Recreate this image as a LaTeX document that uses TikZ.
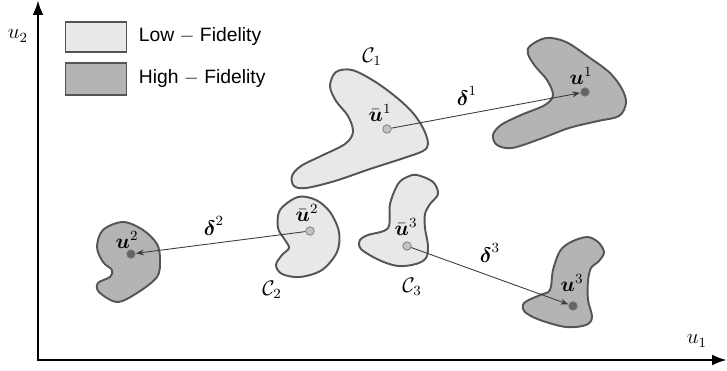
\documentclass[tikz,border=0pt]{standalone}
\usepackage{amsmath}
\usepackage{fontspec}
\setsansfont{Liberation Sans}
\usepackage{tikz}
\usetikzlibrary{arrows.meta, positioning}
\definecolor{lofill}{RGB}{232,232,232}
\definecolor{hifill}{RGB}{180,180,180}
\definecolor{edgegray}{RGB}{85,85,85}
\definecolor{lopt}{RGB}{195,195,195}
\definecolor{hipt}{RGB}{100,100,100}
\definecolor{arrgray}{RGB}{60,60,60}
\tikzset{
  lowfid/.style={draw=edgegray, fill=lofill, line width=1.1pt},
  highfid/.style={draw=edgegray, fill=hifill, line width=1.1pt},
  lowpt/.style={circle, draw=edgegray!80, fill=lopt, inner sep=0pt,
    minimum size=0.17cm, line width=0.4pt},
  highpt/.style={circle, draw=edgegray!80, fill=hipt, inner sep=0pt,
    minimum size=0.17cm, line width=0.4pt},
  legendbox/.style={rectangle, draw=edgegray, line width=1.1pt,
    minimum width=1.22cm, minimum height=0.6cm, inner sep=0pt},
  legendtext/.style={font=\fontsize{11}{13}\selectfont\sffamily, inner sep=0pt},
  mathlabel/.style={font=\large, inner sep=0.5pt},
  deltaarrow/.style={-{Stealth[length=1.6mm, width=1.2mm]}, line width=0.5pt,
    color=arrgray, shorten >=0.2pt},
  axisline/.style={{Latex[length=0.3cm, width=0.22cm]}-{Latex[length=0.3cm, width=0.22cm]},
    line width=1.6pt}
}

\begin{document}
\begin{tikzpicture}[x=0.02cm, y=-0.02cm]
  \useasboundingbox (0,0) rectangle (727,371);
  % Axes
  \coordinate (o) at (38,360);
  \coordinate (xend) at (727,360);
  \coordinate (yend) at (38,0);
  \draw[axisline] (xend) -- (o) -- (yend);
  \node[mathlabel] (u1ax) at (697,341) {$u_1$};
  \node[mathlabel] (u2ax) at (18,36) {$u_2$};
  % Legend
  \node[legendbox, fill=lofill] (lowkey) at (96,37) {};
  \node[legendbox, fill=hifill, minimum height=0.63cm] (highkey) at (96,79) {};
  \node[legendtext, right=0.22cm of lowkey] (lowtext) {Low $-$ Fidelity};
  \node[legendtext, right=0.22cm of highkey] (hightext) {High $-$ Fidelity};
  % Low-fidelity clusters
  \draw[lowfid] plot[smooth cycle, tension=0.55] coordinates {
    (336,72) (352,70) (374,81) (396,97) (413,113) (424,130) (428,144)
    (423,151) (404,158) (370,169) (335,181) (306,188) (294,186) (292,176)
    (301,166) (321,156) (345,144) (353,132) (348,116) (336,101) (330,86)};
  \draw[lowfid] plot[smooth cycle, tension=0.55] coordinates {
    (298,197) (316,200) (330,212) (339,232) (337,252) (322,270) (300,277)
    (282,274) (276,265) (282,255) (289,248) (285,240) (278,228) (280,210)};
  \draw[lowfid] plot[smooth cycle, tension=0.55] coordinates {
    (417,175) (433,182) (438,194) (430,204) (425,214) (425,228) (428,246)
    (426,258) (416,264) (398,266) (379,260) (361,249) (360,240) (368,235)
    (388,228) (390,204) (398,184) (407,177)};
  % High-fidelity clusters
  \draw[highfid] plot[smooth cycle, tension=0.55] coordinates {
    (530,46) (546,38) (566,42) (590,58) (610,73) (622,89) (626,103)
    (619,116) (598,121) (569,128) (540,139) (512,148) (497,145) (493,135)
    (501,125) (521,115) (545,105) (553,95) (547,80) (535,66) (528,54)};
  \draw[highfid] plot[smooth cycle, tension=0.55] coordinates {
    (123,222) (143,230) (157,244) (160,260) (157,277) (137,293) (117,302)
    (99,292) (98,283) (110,277) (112,270) (103,262) (97,247) (103,230)};
  \draw[highfid] plot[smooth cycle, tension=0.55] coordinates {
    (587,237) (598,242) (604,252) (599,261) (591,268) (588,281) (588,300)
    (592,317) (586,325) (566,327) (540,320) (525,312) (524,303) (540,295)
    (550,290) (553,270) (560,251) (571,242)};
  % Cluster centres and fidelity points
  \node[lowpt] (ubar1) at (387,129) {};
  \node[lowpt] (ubar2) at (310,231) {};
  \node[lowpt] (ubar3) at (407,246) {};
  \node[highpt] (u1) at (585,92) {};
  \node[highpt] (u2) at (131,254) {};
  \node[highpt] (u3) at (573,306) {};
  % Shift vectors
  \draw[deltaarrow] (ubar1) -- (u1);
  \draw[deltaarrow] (ubar2) -- (u2);
  \draw[deltaarrow] (ubar3) -- (u3);
  % Labels
  \node[mathlabel] (c1lab) at (372,57) {$\mathcal{C}_1$};
  \node[mathlabel] (c2lab) at (272,290) {$\mathcal{C}_2$};
  \node[mathlabel] (c3lab) at (412,287) {$\mathcal{C}_3$};
  \node[mathlabel] (ubar1lab) at (380,113) {$\bar{\boldsymbol{u}}^1$};
  \node[mathlabel] (ubar2lab) at (307,213) {$\bar{\boldsymbol{u}}^2$};
  \node[mathlabel] (ubar3lab) at (406,227) {$\bar{\boldsymbol{u}}^3$};
  \node[mathlabel] (u1lab) at (581,76) {$\boldsymbol{u}^1$};
  \node[mathlabel] (u2lab) at (127,240) {$\boldsymbol{u}^2$};
  \node[mathlabel] (u3lab) at (572,283) {$\boldsymbol{u}^3$};
  \node[mathlabel] (d1lab) at (467,96) {$\boldsymbol{\delta}^1$};
  \node[mathlabel] (d2lab) at (214,226) {$\boldsymbol{\delta}^2$};
  \node[mathlabel] (d3lab) at (490,253) {$\boldsymbol{\delta}^3$};
\end{tikzpicture}
\end{document}
